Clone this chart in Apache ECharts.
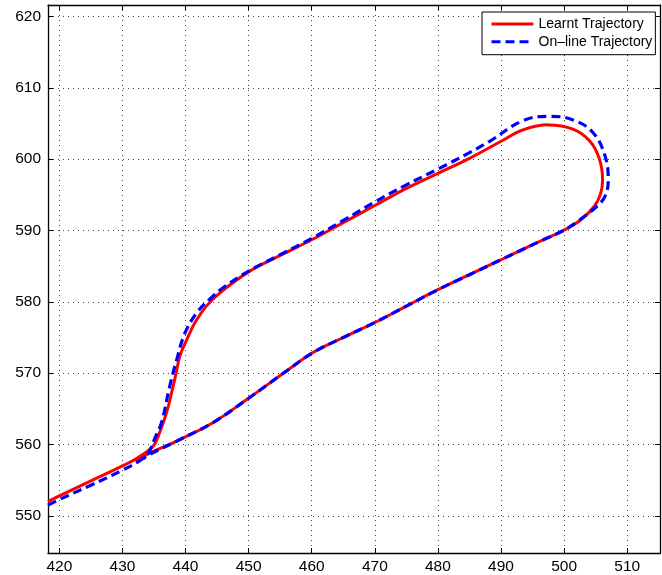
<!DOCTYPE html>
<html>
<head>
<meta charset="utf-8">
<script src="https://cdn.jsdelivr.net/npm/echarts@6/dist/echarts.min.js"></script>
<style>
  html, body { margin: 0; padding: 0; background: #fff; }
  #chart { width: 662px; height: 575px; }
</style>
</head>
<body>
<div id="chart"></div>
<script>
// axis ranges
var xRange = [418.2, 515.2];
var yRange = [544.8, 621.6];

// learnt trajectory (red), in order along the path
var learntX = [418.2, 420, 425, 430, 432.5, 434.9, 435.9, 437.0, 437.8, 438.5, 439.1, 440.2, 441.5, 443.3, 445.5, 450, 455, 460, 465, 470, 475, 480, 485, 489.8, 493.5, 497.5, 501.4, 504.1, 505.6, 506.1, 505.8, 504.8, 502.5, 499.9, 496.7, 490, 485, 480, 475, 470, 465, 460.2, 456, 453, 449.7, 444.4, 439.1, 434.3, 432];
var learntY = [552.0, 552.8, 554.9, 557.0, 558.2, 559.8, 561.7, 564.5, 567.3, 570.0, 572.4, 574.7, 577.1, 579.4, 581.3, 584.2, 586.5, 588.7, 591.1, 593.5, 595.9, 598.0, 600.1, 602.4, 604.1, 604.8, 604.2, 602.5, 600.0, 597.1, 595.2, 593.4, 591.4, 590.0, 588.7, 585.9, 583.8, 581.7, 579.4, 577.1, 575.0, 572.9, 570.3, 568.4, 566.3, 563.1, 560.7, 558.8, 557.8];

// on-line trajectory (blue dashed)
var onlineX = [418.2, 420, 425, 430, 432.5, 434.0, 434.4, 435.2, 436.2, 437.5, 438.6, 439.9, 441.8, 444.1, 446, 450, 455, 460, 465, 470, 475, 480, 485, 488.2, 493.5, 497.7, 501.4, 504.6, 506.5, 507.0, 506.5, 505.2, 502.5, 499.9, 496.7, 490, 485, 480, 475, 470, 465, 460.2, 456, 453, 449.7, 444.4, 439.1, 434.3, 433.3];
var onlineY = [551.5, 552.3, 554.3, 556.4, 557.6, 558.7, 559.3, 561.0, 563.1, 568.2, 571.9, 575.6, 578.5, 580.6, 582.0, 584.3, 586.6, 588.9, 591.4, 594.0, 596.4, 598.6, 600.9, 602.5, 605.4, 606.0, 605.5, 603.7, 600.4, 597.1, 594.8, 593.4, 591.5, 590.0, 588.7, 585.9, 583.8, 581.7, 579.4, 577.1, 575.0, 572.9, 570.3, 568.4, 566.3, 563.1, 560.7, 558.6, 558.0];

var seriesNames = ['Learnt Trajectory', 'On\u2013line Trajectory'];

function pairs(xs, ys) {
    var out = [];
    for (var i = 0; i < xs.length; i++) {
        out.push([xs[i], ys[i]]);
    }
    return out;
}

var font = 'Liberation Sans, Arial, Helvetica, sans-serif';

function mainAxis(range, pos) {
    return {
        type: 'value',
        position: pos,
        min: range[0],
        max: range[1],
        minInterval: 10,
        maxInterval: 10,
        axisLine: { show: true, onZero: false, lineStyle: { color: '#000', width: 1.3 } },
        axisTick: { show: true, inside: true, length: 5, lineStyle: { color: '#000' } },
        axisLabel: {
            show: true, color: '#000', fontSize: 15.5, fontFamily: font,
            margin: pos === 'left' ? 7 : 6,
            showMinLabel: false, showMaxLabel: false
        },
        splitLine: { show: true, lineStyle: { color: '#444', width: 1, type: [1, 4] } }
    };
}

function frameAxis(range, pos) {
    return {
        type: 'value',
        position: pos,
        min: range[0],
        max: range[1],
        minInterval: 10,
        maxInterval: 10,
        axisLine: { show: true, onZero: false, lineStyle: { color: '#000', width: 1.3 } },
        axisTick: { show: true, inside: true, length: 5, lineStyle: { color: '#000' } },
        axisLabel: { show: false },
        splitLine: { show: false }
    };
}

var myChart = echarts.init(document.getElementById('chart'), null, { renderer: 'canvas' });
var option = {
    animation: false,
    backgroundColor: '#fff',
    grid: { left: 48, right: 2, top: 5, bottom: 21 },
    xAxis: [mainAxis(xRange, 'bottom'), frameAxis(xRange, 'top')],
    yAxis: [mainAxis(yRange, 'left'), frameAxis(yRange, 'right')],
    legend: {
        orient: 'vertical',
        left: 482,
        top: 12,
        padding: [5, 3, 6, 8],
        itemWidth: 42,
        itemHeight: 14,
        itemGap: 3.7,
        backgroundColor: '#fff',
        borderColor: '#000',
        borderWidth: 1,
        borderRadius: 0,
        itemStyle: { opacity: 0 },
        lineStyle: { width: 3 },
        textStyle: { color: '#000', fontSize: 14, fontFamily: font },
        data: seriesNames
    },
    series: [
        {
            name: seriesNames[0],
            type: 'line',
            data: pairs(learntX, learntY),
            symbol: 'none',
            smooth: 0.4,
            lineStyle: { color: '#ff0000', width: 3 },
            itemStyle: { color: '#ff0000' }
        },
        {
            name: seriesNames[1],
            type: 'line',
            data: pairs(onlineX, onlineY),
            symbol: 'none',
            smooth: 0.4,
            lineStyle: { color: '#0000ff', width: 3.2, type: [9, 5] },
            itemStyle: { color: '#0000ff' }
        }
    ]
};

myChart.setOption(option);
</script>
</body>
</html>
